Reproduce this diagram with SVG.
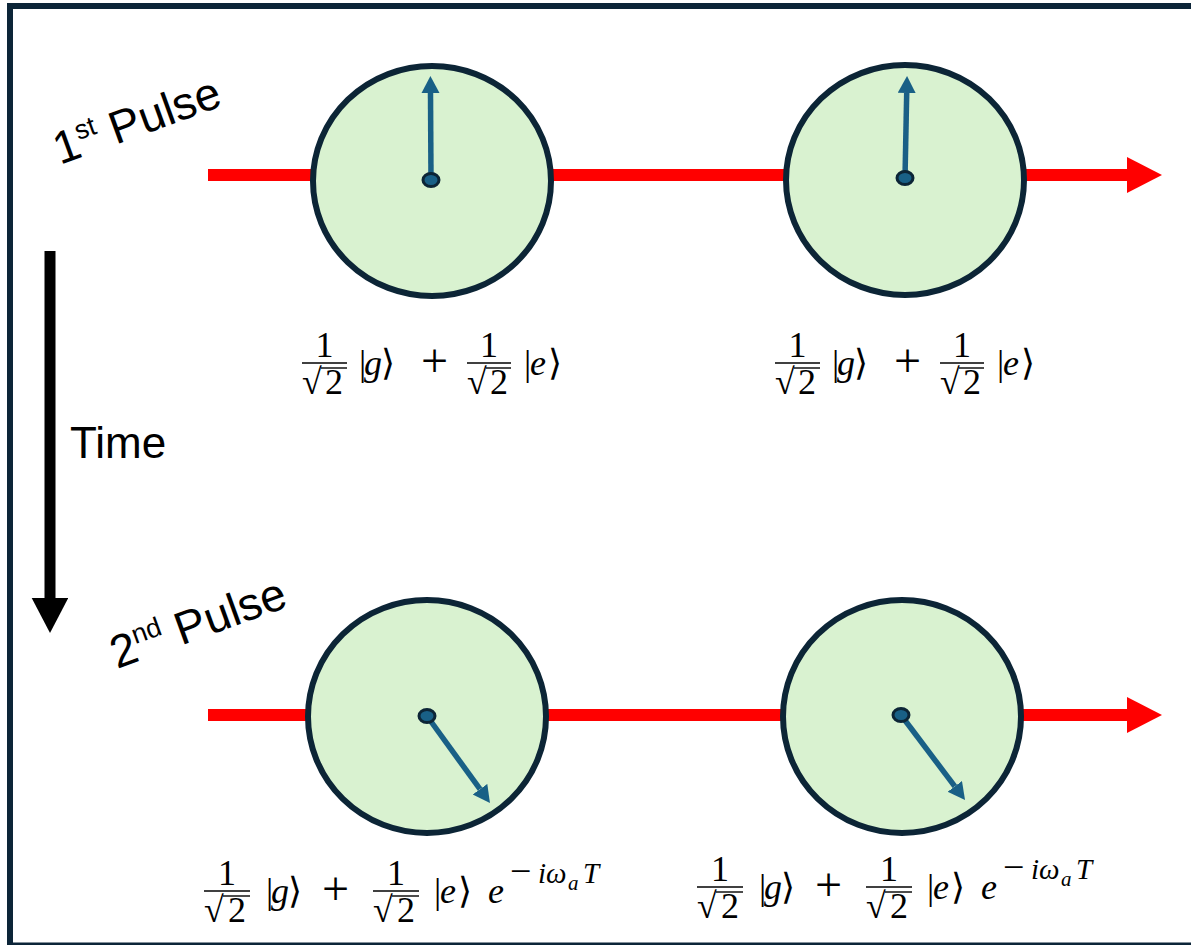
<svg xmlns="http://www.w3.org/2000/svg" width="1191" height="945" viewBox="0 0 1191 945">
<style>
.frame{fill:none;stroke:#0c2538;stroke-width:6}
.beam{stroke:#ff0000;stroke-width:12;fill:none}
.body{fill:#d9f2d0;stroke:#0c2536;stroke-width:6}
.needle{stroke:#196086;stroke-width:5.5;fill:none}
.dot{fill:#196086;stroke:#0c2536;stroke-width:3}
.lbl{font-family:"Liberation Sans",Arial,sans-serif;fill:#000}
.m{font-family:"Liberation Serif","Times New Roman",serif;font-size:36px;fill:#000}
.i{font-style:italic}
.pl{font-size:48px}
.mn{font-size:38px}
.sup{font-size:29px}
.sub{font-size:21px}
.bar{stroke:#000;stroke-width:1.4}
</style>
<defs>
<marker id="redHead" markerUnits="userSpaceOnUse" markerWidth="36" markerHeight="37" refX="0" refY="18" orient="auto"><path d="M0,0 L35,18 L0,36 z" fill="#ff0000"/></marker>
<marker id="blackHead" markerUnits="userSpaceOnUse" markerWidth="37" markerHeight="37" refX="0" refY="18.3" orient="auto"><path d="M0,0 L35,18.3 L0,36.6 z" fill="#000"/></marker>
<marker id="needleHead" markerUnits="userSpaceOnUse" markerWidth="18" markerHeight="19" refX="0" refY="9" orient="auto"><path d="M0,0 L17,9 L0,18 z" fill="#196086"/></marker>
</defs>
<rect width="1191" height="945" fill="#fff"/>
<g id="frame">
<path class="frame" d="M10,945 V6 H1191"/>
<line class="frame" x1="7" y1="945.5" x2="1191" y2="945.5"/>
</g>
<g id="connectors">
<line class="beam" x1="208" y1="175" x2="1127" y2="175" marker-end="url(#redHead)"/>
<line class="beam" x1="208" y1="715" x2="1127" y2="715" marker-end="url(#redHead)"/>
<line x1="50" y1="251" x2="50" y2="598" stroke="#000" stroke-width="11" marker-end="url(#blackHead)"/>
</g>
<g id="atom1">
<ellipse class="body" cx="432" cy="181" rx="119" ry="115"/>
<line class="needle" x1="431" y1="180" x2="430.5" y2="93" marker-end="url(#needleHead)"/>
<ellipse class="dot" cx="431" cy="180" rx="8" ry="6.5"/>
</g>
<g id="atom2">
<ellipse class="body" cx="905" cy="180" rx="119" ry="115"/>
<line class="needle" x1="905" y1="178" x2="906.7" y2="93" marker-end="url(#needleHead)"/>
<ellipse class="dot" cx="905" cy="178" rx="8" ry="6.5"/>
</g>
<g id="atom3">
<ellipse class="body" cx="427" cy="716.5" rx="119" ry="116.5"/>
<line class="needle" x1="427" y1="716" x2="480" y2="789.2" marker-end="url(#needleHead)"/>
<ellipse class="dot" cx="427" cy="716" rx="8" ry="6.5"/>
</g>
<g id="atom4">
<ellipse class="body" cx="902" cy="716.5" rx="119" ry="116.5"/>
<line class="needle" x1="901" y1="715" x2="954.8" y2="786.4" marker-end="url(#needleHead)"/>
<ellipse class="dot" cx="901" cy="715" rx="8" ry="6.5"/>
</g>
<g id="labels">
<text class="lbl" font-size="46" transform="translate(60,165) rotate(-20)">1<tspan font-size="27" dy="-17">st</tspan><tspan dy="17"> Pulse</tspan></text>
<text class="lbl" font-size="46" transform="translate(117,669) rotate(-20)">2<tspan font-size="27" dy="-17">nd</tspan><tspan dy="17"> Pulse</tspan></text>
<text class="lbl" font-size="44" x="70" y="458">Time</text>
</g>
<g id="state1" transform="translate(302,363)">
<line class="bar" x1="0" y1="0" x2="45" y2="0"/>
<line class="bar" x1="19" y1="5" x2="45" y2="5"/>
<line class="bar" x1="165" y1="0" x2="209" y2="0"/>
<line class="bar" x1="184" y1="5" x2="209" y2="5"/>
<text class="m"><tspan x="13.5" y="-6">1</tspan><tspan x="0" y="31">√</tspan><tspan x="23" y="31">2</tspan><tspan x="57" y="12">|</tspan><tspan class="i" x="62" y="12">g</tspan><tspan x="79" y="12">⟩</tspan><tspan class="pl" x="119" y="14">+</tspan><tspan x="178" y="-6">1</tspan><tspan x="165" y="31">√</tspan><tspan x="188" y="31">2</tspan><tspan x="222" y="12">|</tspan><tspan class="i" x="228" y="12">e</tspan><tspan x="246" y="12">⟩</tspan></text>
</g>
<g id="state2" transform="translate(775,363)">
<line class="bar" x1="0" y1="0" x2="45" y2="0"/>
<line class="bar" x1="19" y1="5" x2="45" y2="5"/>
<line class="bar" x1="165" y1="0" x2="209" y2="0"/>
<line class="bar" x1="184" y1="5" x2="209" y2="5"/>
<text class="m"><tspan x="13.5" y="-6">1</tspan><tspan x="0" y="31">√</tspan><tspan x="23" y="31">2</tspan><tspan x="57" y="12">|</tspan><tspan class="i" x="62" y="12">g</tspan><tspan x="79" y="12">⟩</tspan><tspan class="pl" x="119" y="14">+</tspan><tspan x="178" y="-6">1</tspan><tspan x="165" y="31">√</tspan><tspan x="188" y="31">2</tspan><tspan x="222" y="12">|</tspan><tspan class="i" x="228" y="12">e</tspan><tspan x="246" y="12">⟩</tspan></text>
</g>
<g id="state3" transform="translate(204,891)">
<line class="bar" x1="0" y1="0" x2="46" y2="0"/>
<line class="bar" x1="19" y1="5" x2="46" y2="5"/>
<line class="bar" x1="169" y1="0" x2="215" y2="0"/>
<line class="bar" x1="188" y1="5" x2="215" y2="5"/>
<text class="m"><tspan x="14" y="-6">1</tspan><tspan x="0" y="31">√</tspan><tspan x="24" y="31">2</tspan><tspan x="62" y="12">|</tspan><tspan class="i" x="67" y="12">g</tspan><tspan x="84" y="12">⟩</tspan><tspan class="pl" x="118" y="14">+</tspan><tspan x="183" y="-6">1</tspan><tspan x="169" y="31">√</tspan><tspan x="193" y="31">2</tspan><tspan x="230" y="12">|</tspan><tspan class="i" x="236" y="12">e</tspan><tspan x="254" y="12">⟩</tspan><tspan class="i" x="284" y="12">e</tspan><tspan class="mn" x="306" y="-7">−</tspan><tspan class="sup i" x="334" y="-8">i</tspan><tspan class="sup i" x="342" y="-8">ω</tspan><tspan class="sub i" x="364" y="-1">a</tspan><tspan class="sup i" x="379" y="-8">T</tspan></text>
</g>
<g id="state4" transform="translate(697,887)">
<line class="bar" x1="0" y1="0" x2="46" y2="0"/>
<line class="bar" x1="19" y1="5" x2="46" y2="5"/>
<line class="bar" x1="169" y1="0" x2="215" y2="0"/>
<line class="bar" x1="188" y1="5" x2="215" y2="5"/>
<text class="m"><tspan x="14" y="-6">1</tspan><tspan x="0" y="31">√</tspan><tspan x="24" y="31">2</tspan><tspan x="62" y="12">|</tspan><tspan class="i" x="67" y="12">g</tspan><tspan x="84" y="12">⟩</tspan><tspan class="pl" x="118" y="14">+</tspan><tspan x="183" y="-6">1</tspan><tspan x="169" y="31">√</tspan><tspan x="193" y="31">2</tspan><tspan x="230" y="12">|</tspan><tspan class="i" x="236" y="12">e</tspan><tspan x="254" y="12">⟩</tspan><tspan class="i" x="284" y="12">e</tspan><tspan class="mn" x="306" y="-7">−</tspan><tspan class="sup i" x="334" y="-8">i</tspan><tspan class="sup i" x="342" y="-8">ω</tspan><tspan class="sub i" x="364" y="-1">a</tspan><tspan class="sup i" x="379" y="-8">T</tspan></text>
</g>
</svg>
